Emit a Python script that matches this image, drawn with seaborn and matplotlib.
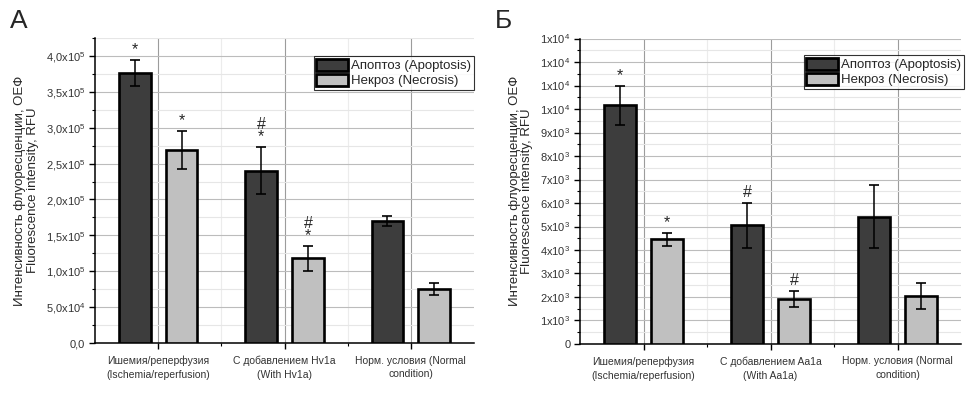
import numpy as np
import pandas as pd
import matplotlib
matplotlib.use("Agg")
import matplotlib.pyplot as plt
import matplotlib.patches as mpatches
from matplotlib.ticker import FixedLocator, NullFormatter
import seaborn as sns

# ---------------- data ----------------
series_names = ["Апоптоз (Apoptosis)", "Некроз (Necrosis)"]

groups_a = ["Ишемия/реперфузия\n(Ischemia/reperfusion)",
            "С добавлением Hv1a\n(With Hv1a)",
            "Норм. условия (Normal\ncondition)"]
apoptosis_a = [3.76e5, 2.40e5, 1.70e5]
apoptosis_a_err = [0.18e5, 0.33e5, 0.07e5]
necrosis_a = [2.69e5, 1.18e5, 0.75e5]
necrosis_a_err = [0.26e5, 0.17e5, 0.08e5]
marks_apo_a = ["*", "#\n*", ""]
marks_nec_a = ["*", "#\n*", ""]
yticks_a = [0, 5e4, 1e5, 1.5e5, 2e5, 2.5e5, 3e5, 3.5e5, 4e5]
yticklabels_a = ["0,0", "5,0x10$^4$", "1,0x10$^5$", "1,5x10$^5$", "2,0x10$^5$",
                 "2,5x10$^5$", "3,0x10$^5$", "3,5x10$^5$", "4,0x10$^5$"]
ylim_a = (0, 4.25e5)

groups_b = ["Ишемия/реперфузия\n(Ischemia/reperfusion)",
            "С добавлением Aa1a\n(With Aa1a)",
            "Норм. условия (Normal\ncondition)"]
apoptosis_b = [10170, 5060, 5420]
apoptosis_b_err = [830, 960, 1350]
necrosis_b = [4450, 1910, 2060]
necrosis_b_err = [270, 350, 550]
marks_apo_b = ["*", "#", ""]
marks_nec_b = ["*", "#", ""]
yticks_b = [0, 1000, 2000, 3000, 4000, 5000, 6000, 7000, 8000, 9000,
            10000, 11000, 12000, 13000]
yticklabels_b = ["0", "1x10$^3$", "2x10$^3$", "3x10$^3$", "4x10$^3$", "5x10$^3$",
                 "6x10$^3$", "7x10$^3$", "8x10$^3$", "9x10$^3$",
                 "1x10$^4$", "1x10$^4$", "1x10$^4$", "1x10$^4$"]
ylim_b = (0, 13000)

panel_letters = ["А", "Б"]
ylabel_text = "Интенсивность флуоресценции, ОЕФ\nFluorescence intensity, RFU"

# ---------------- style ----------------
sns.set_style("ticks")
plt.rcParams["font.family"] = ["Liberation Sans", "DejaVu Sans"]
plt.rcParams["mathtext.fontset"] = "custom"
plt.rcParams["mathtext.rm"] = "Liberation Sans"
plt.rcParams["mathtext.it"] = "Liberation Sans:italic"
plt.rcParams["mathtext.default"] = "regular"

dark = "#3d3d3d"
light = "#c0c0c0"

fig = plt.figure(figsize=(9.74, 3.93), dpi=100)
ax_a = fig.add_axes([0.0975, 0.1272, 0.3892, 0.7761])
ax_b = fig.add_axes([0.5955, 0.1247, 0.3912, 0.7773])


def draw_panel(ax, groups, apo, apo_err, nec, nec_err, marks_apo, marks_nec,
               yticks, yticklabels, ylim, legend_anchor):
    df = pd.DataFrame({
        "group": groups * 2,
        "type": [series_names[0]] * len(groups) + [series_names[1]] * len(groups),
        "value": list(apo) + list(nec),
    })
    sns.barplot(data=df, x="group", y="value", hue="type", order=groups,
                hue_order=series_names, palette=[dark, light], width=0.74,
                gap=0.32, edgecolor="black", linewidth=1.9, errorbar=None,
                legend=False, ax=ax, zorder=3)
    errs = [apo_err, nec_err]
    marks = [marks_apo, marks_nec]
    vals = [apo, nec]
    for ci, cont in enumerate(ax.containers[:2]):
        for bi, bar in enumerate(cont):
            xc = bar.get_x() + bar.get_width() / 2
            ax.errorbar(xc, vals[ci][bi], yerr=errs[ci][bi], fmt="none",
                        ecolor="black", elinewidth=1.1, capsize=3.4,
                        capthick=1.2, zorder=4)
            if marks[ci][bi]:
                ax.annotate(marks[ci][bi], (xc, vals[ci][bi] + errs[ci][bi]),
                            xytext=(0, 2), textcoords="offset points",
                            ha="center", va="bottom", fontsize=11.5,
                            linespacing=0.8, zorder=5)
    ax.set_xlim(-0.5, 2.5)
    ax.set_ylim(*ylim)
    ax.set_yticks(yticks)
    ax.set_yticklabels(yticklabels)
    step = yticks[1] - yticks[0]
    ax.yaxis.set_minor_locator(FixedLocator(np.array(yticks) + step / 2))
    ax.xaxis.set_minor_locator(FixedLocator([0.5, 1.5]))
    ax.xaxis.set_minor_formatter(NullFormatter())
    for lab in ax.get_xticklabels():
        lab.set_linespacing(1.45)
    ax.set_xlabel("")
    ax.set_ylabel(ylabel_text, fontsize=9.5, labelpad=5, linespacing=1.05)
    ax.tick_params(axis="y", which="major", labelsize=8, direction="out",
                   length=4, width=1, color="black", pad=3)
    ax.tick_params(axis="x", which="major", labelsize=7.5, direction="out",
                   length=4, width=1, color="black", pad=5)
    ax.tick_params(axis="both", which="minor", direction="out", length=2,
                   width=0.8, color="black")
    ax.tick_params(axis="y", labelcolor="#333333")
    ax.tick_params(axis="x", labelcolor="#333333")
    ax.set_axisbelow(True)
    ax.yaxis.grid(True, which="major", color="#bcbcbc", linewidth=0.8)
    ax.yaxis.grid(True, which="minor", color="#e6e6e6", linewidth=0.8)
    ax.xaxis.grid(True, which="major", color="#9c9c9c", linewidth=0.8)
    ax.xaxis.grid(True, which="minor", color="#ececec", linewidth=0.8)
    for s in ["top", "right"]:
        ax.spines[s].set_visible(False)
    for s in ["left", "bottom"]:
        ax.spines[s].set_linewidth(1.1)
        ax.spines[s].set_color("black")
    handles = [mpatches.Patch(facecolor=dark, edgecolor="black", linewidth=2.0),
               mpatches.Patch(facecolor=light, edgecolor="black", linewidth=2.0)]
    leg = ax.legend(handles, series_names, loc="upper right",
                    bbox_to_anchor=legend_anchor, frameon=True, fancybox=False,
                    fontsize=9.5, handlelength=2.4, handleheight=1.05,
                    handletextpad=0.25, labelspacing=0.12, borderpad=0.2,
                    borderaxespad=0, edgecolor="black")
    leg.get_frame().set_linewidth(0.8)
    leg.set_zorder(6)


draw_panel(ax_a, groups_a, apoptosis_a, apoptosis_a_err, necrosis_a,
           necrosis_a_err, marks_apo_a, marks_nec_a, yticks_a, yticklabels_a,
           ylim_a, (1.0, 0.941))
draw_panel(ax_b, groups_b, apoptosis_b, apoptosis_b_err, necrosis_b,
           necrosis_b_err, marks_apo_b, marks_nec_b, yticks_b, yticklabels_b,
           ylim_b, (1.008, 0.946))

fig.text(0.010, 0.915, panel_letters[0], fontsize=19, ha="left", va="bottom")
fig.text(0.508, 0.915, panel_letters[1], fontsize=19, ha="left", va="bottom")

fig.savefig("out.png", dpi=100)
